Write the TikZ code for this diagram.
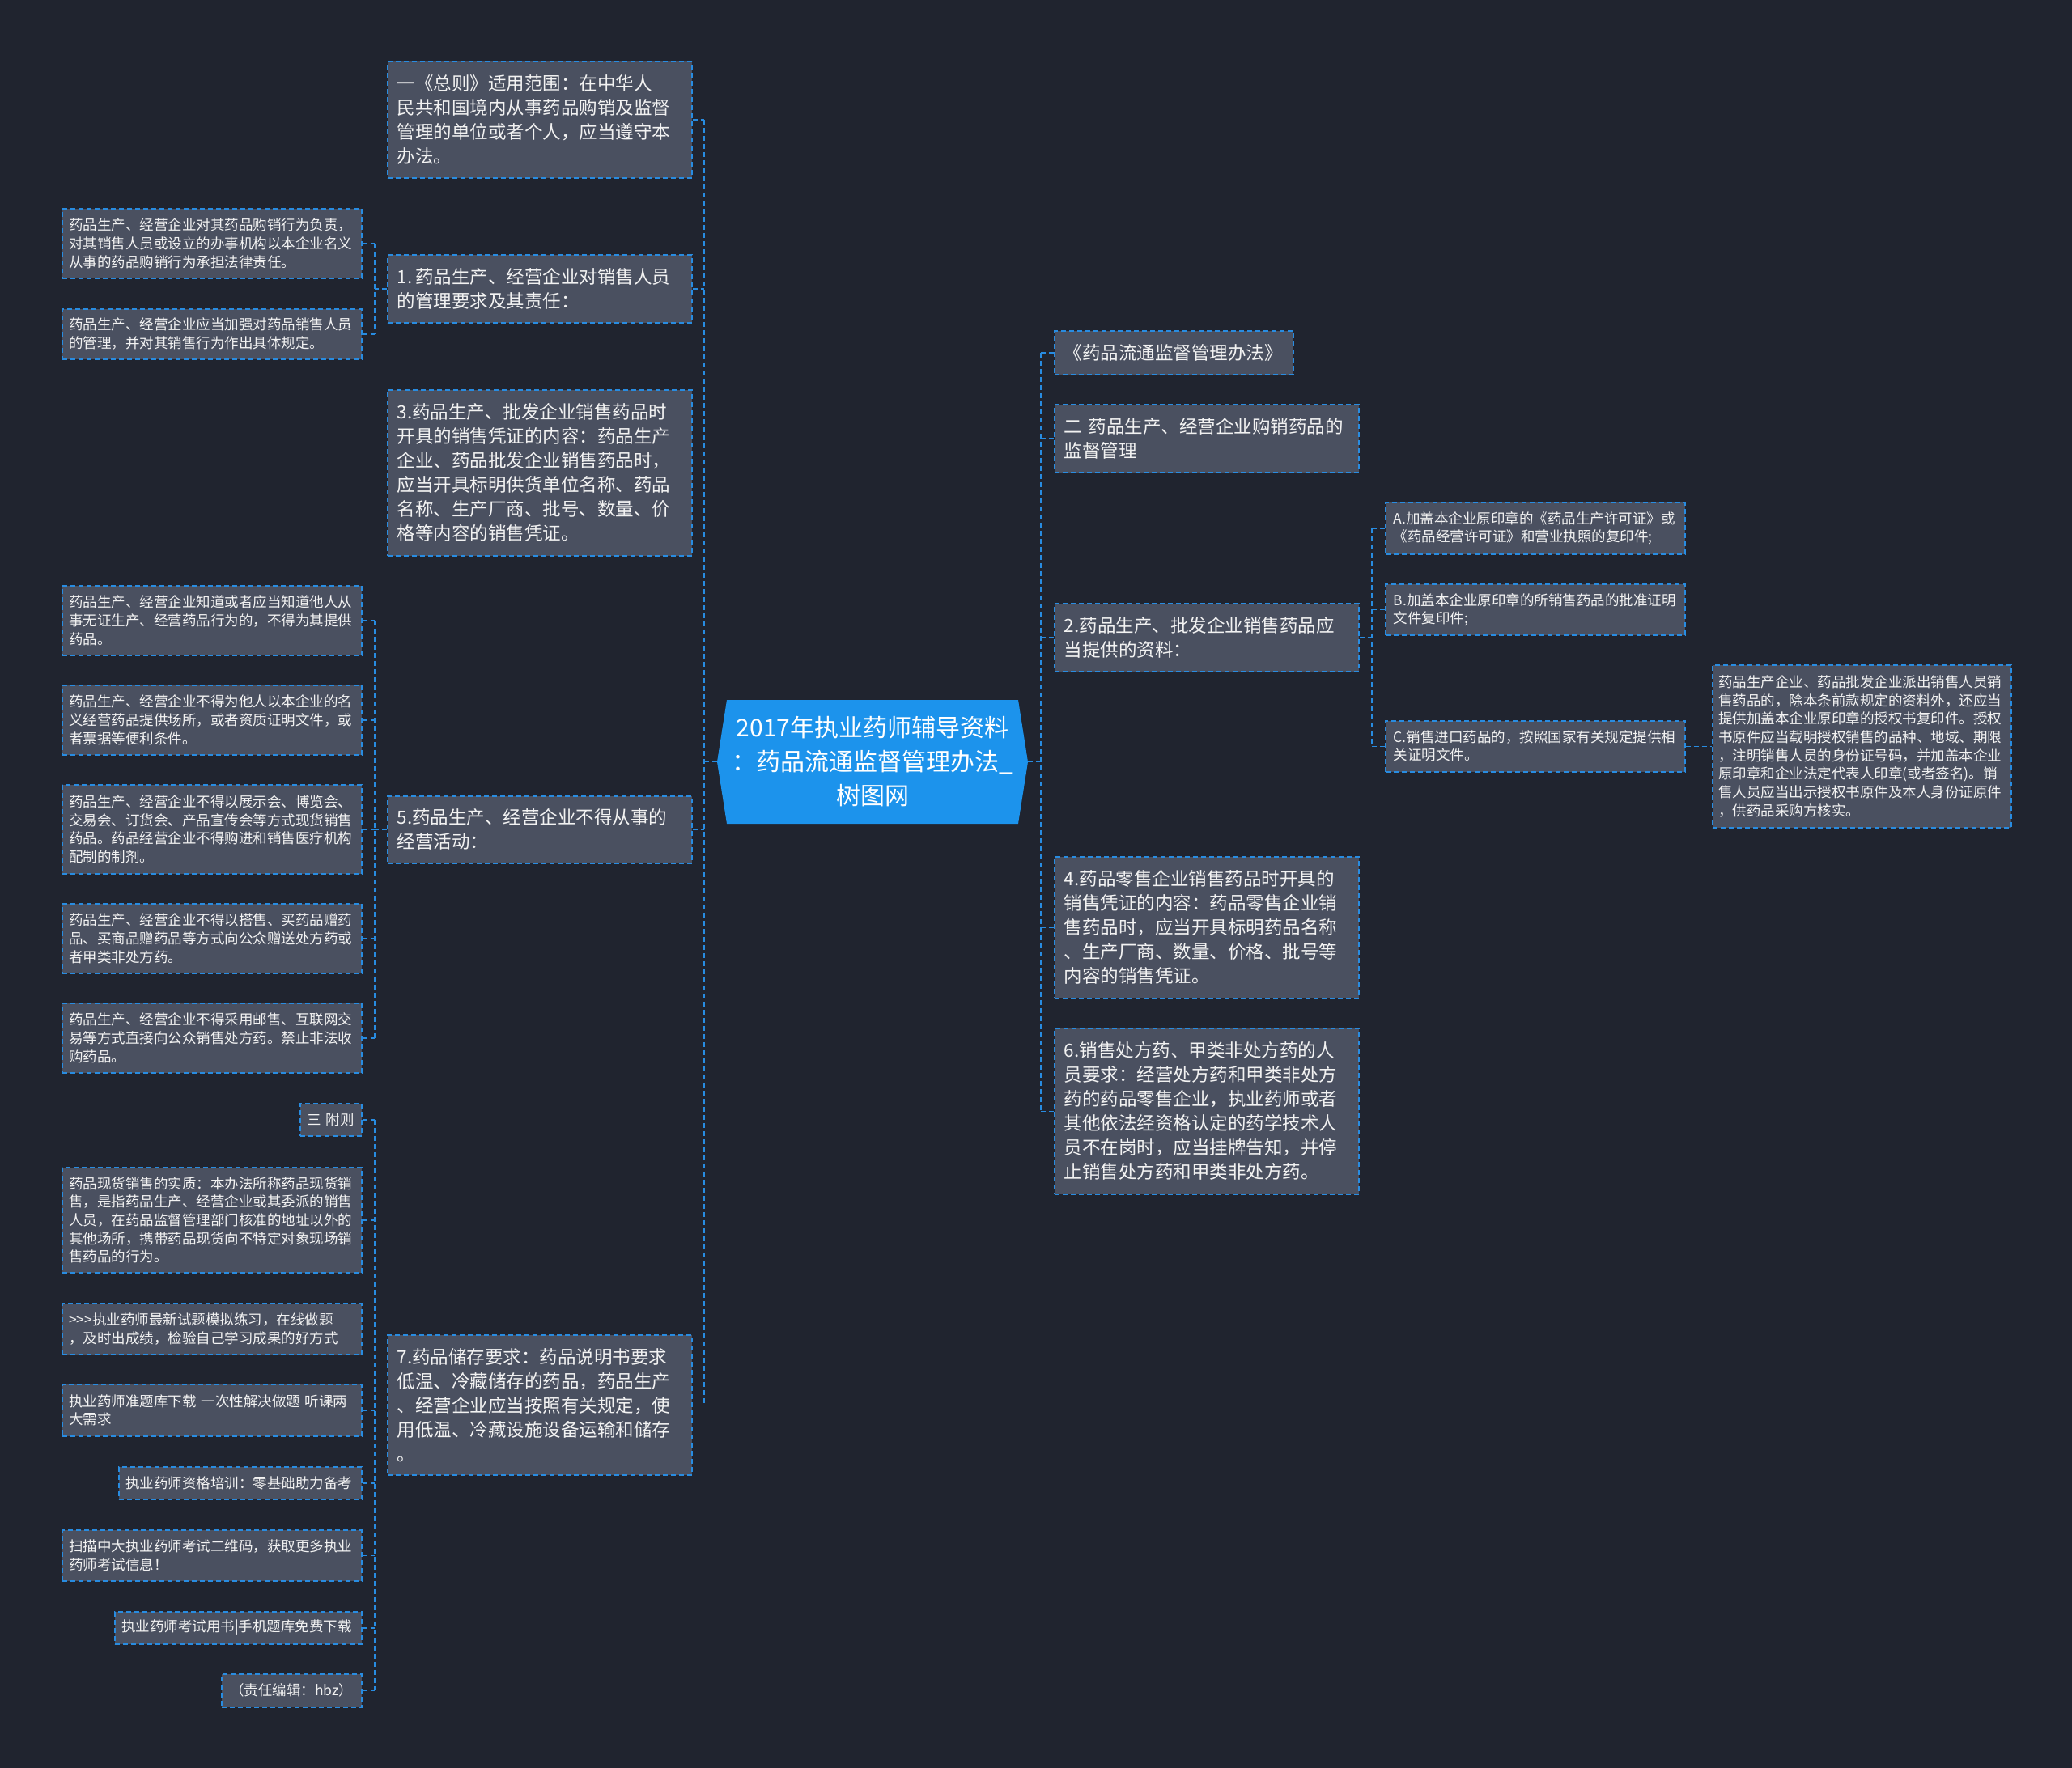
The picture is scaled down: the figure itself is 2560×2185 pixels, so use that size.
\documentclass[tikz,border=0pt]{standalone}
\usepackage{fontspec}
\setmainfont{Noto Sans CJK SC}
\definecolor{bg}{RGB}{32,36,47}
\definecolor{nfill}{RGB}{74,80,96}
\definecolor{bcol}{RGB}{40,140,225}
\definecolor{rootcol}{RGB}{28,147,236}
\definecolor{tcol}{RGB}{242,242,242}
\begin{document}
\begin{tikzpicture}[x=1pt,y=-1pt,
 box/.style={rectangle, draw=bcol, line width=1.5pt, dash pattern=on 6pt off 4pt, fill=nfill, text=tcol, anchor=north west, align=left, inner ysep=1pt},
 mainbox/.style={box, inner xsep=12pt, font=\fontsize{22.5}{30}\selectfont},
 smallbox/.style={box, inner xsep=8.5pt, font=\fontsize{17.5}{22.7}\selectfont},
 rsmall/.style={box, inner xsep=10pt, font=\fontsize{17.5}{22}\selectfont},
 conn/.style={draw=bcol, line width=1.5pt, dash pattern=on 6pt off 4pt},
]
\fill[bg] (0,0) rectangle (2560,2185);
\useasboundingbox (0,0) rectangle (2560,2185);

% root
\fill[rootcol] (886,941.5) -- (898,865) -- (1258,865) -- (1270,941.5) -- (1258,1018) -- (898,1018) -- cycle;
\node[text=white, font=\fontsize{30}{42}\selectfont, align=center, minimum width=384, minimum height=153, inner sep=0pt] (root) at (1078,941.5)
 {2017年执业药师辅导资料\\：药品流通监督管理办法\_\\树图网};

% left main nodes
\node[mainbox, minimum width=376, minimum height=144, text width=352] (n1) at (478,75)
 {一《总则》适用范围：在中华人\\民共和国境内从事药品购销及监督\\管理的单位或者个人，应当遵守本\\办法。};
\node[mainbox, minimum width=376, minimum height=84, text width=352] (n2) at (478,314)
 {1.\,药品生产、经营企业对销售人员\\的管理要求及其责任：};
\node[mainbox, minimum width=376, minimum height=205, text width=352] (n3) at (478,481)
 {3.药品生产、批发企业销售药品时\\开具的销售凭证的内容：药品生产\\企业、药品批发企业销售药品时，\\应当开具标明供货单位名称、药品\\名称、生产厂商、批号、数量、价\\格等内容的销售凭证。};
\node[mainbox, minimum width=376, minimum height=83, text width=352] (n4) at (478,983)
 {5.药品生产、经营企业不得从事的\\经营活动：};
\node[mainbox, minimum width=376, minimum height=173, text width=352] (n5) at (478,1649)
 {7.药品储存要求：药品说明书要求\\低温、冷藏储存的药品，药品生产\\、经营企业应当按照有关规定，使\\用低温、冷藏设施设备运输和储存\\。};

% left small nodes
\node[smallbox, minimum width=370, minimum height=86, text width=353] (l1a) at (76,257)
 {药品生产、经营企业对其药品购销行为负责，\\对其销售人员或设立的办事机构以本企业名义\\从事的药品购销行为承担法律责任。};
\node[smallbox, minimum width=370, minimum height=62, text width=353] (l1b) at (76,381)
 {药品生产、经营企业应当加强对药品销售人员\\的管理，并对其销售行为作出具体规定。};
\node[smallbox, minimum width=370, minimum height=86, text width=353] (l5a) at (76,723)
 {药品生产、经营企业知道或者应当知道他人从\\事无证生产、经营药品行为的，不得为其提供\\药品。};
\node[smallbox, minimum width=370, minimum height=86, text width=353] (l5b) at (76,846)
 {药品生产、经营企业不得为他人以本企业的名\\义经营药品提供场所，或者资质证明文件，或\\者票据等便利条件。};
\node[smallbox, minimum width=370, minimum height=110, text width=353] (l5c) at (76,969)
 {药品生产、经营企业不得以展示会、博览会、\\交易会、订货会、产品宣传会等方式现货销售\\药品。药品经营企业不得购进和销售医疗机构\\配制的制剂。};
\node[smallbox, minimum width=370, minimum height=86, text width=353] (l5d) at (76,1116)
 {药品生产、经营企业不得以搭售、买药品赠药\\品、买商品赠药品等方式向公众赠送处方药或\\者甲类非处方药。};
\node[smallbox, minimum width=370, minimum height=86, text width=353] (l5e) at (76,1239)
 {药品生产、经营企业不得采用邮售、互联网交\\易等方式直接向公众销售处方药。禁止非法收\\购药品。};
\node[smallbox, minimum width=76, minimum height=40, text width=59] (l7a) at (370,1363)
 {三 附则};
\node[smallbox, minimum width=370, minimum height=130, text width=353, inner ysep=0pt] (l7b) at (76,1442)
 {药品现货销售的实质：本办法所称药品现货销\\售，是指药品生产、经营企业或其委派的销售\\人员，在药品监督管理部门核准的地址以外的\\其他场所，携带药品现货向不特定对象现场销\\售药品的行为。};
\node[smallbox, minimum width=370, minimum height=63, text width=353] (l7c) at (76,1610)
 {{>}{>}{>}执业药师最新试题模拟练习，在线做题\\，及时出成绩，检验自己学习成果的好方式};
\node[smallbox, minimum width=370, minimum height=64, text width=353] (l7d) at (76,1710)
 {执业药师准题库下载 一次性解决做题 听课两\\大需求};
\node[smallbox, minimum width=300, minimum height=40, text width=283] (l7e) at (146,1812)
 {执业药师资格培训：零基础助力备考};
\node[smallbox, minimum width=370, minimum height=63, text width=353] (l7f) at (76,1890)
 {扫描中大执业药师考试二维码，获取更多执业\\药师考试信息！};
\node[smallbox, minimum width=305, minimum height=40, text width=288] (l7g) at (141,1991)
 {执业药师考试用书|手机题库免费下载};
\node[smallbox, minimum width=173, minimum height=41, text width=156, align=center] (l7h) at (273,2068)
 {（责任编辑：hbz）};

% right main nodes
\node[mainbox, minimum width=295, minimum height=54, text width=271] (r1) at (1302,408)
 {《药品流通监督管理办法》};
\node[mainbox, minimum width=376, minimum height=84, text width=352] (r2) at (1302,499)
 {二 药品生产、经营企业购销药品的\\监督管理};
\node[mainbox, minimum width=376, minimum height=84, text width=352] (r3) at (1302,745)
 {2.药品生产、批发企业销售药品应\\当提供的资料：};
\node[mainbox, minimum width=376, minimum height=175, text width=352] (r4) at (1302,1058)
 {4.药品零售企业销售药品时开具的\\销售凭证的内容：药品零售企业销\\售药品时，应当开具标明药品名称\\、生产厂商、数量、价格、批号等\\内容的销售凭证。};
\node[mainbox, minimum width=376, minimum height=205, text width=352] (r5) at (1302,1270)
 {6.销售处方药、甲类非处方药的人\\员要求：经营处方药和甲类非处方\\药的药品零售企业，执业药师或者\\其他依法经资格认定的药学技术人\\员不在岗时，应当挂牌告知，并停\\止销售处方药和甲类非处方药。};

% right small nodes
\node[rsmall, minimum width=370, minimum height=64, text width=350] (ra) at (1711,620)
 {A.加盖本企业原印章的《药品生产许可证》或\\《药品经营许可证》和营业执照的复印件;};
\node[rsmall, minimum width=370, minimum height=63, text width=350] (rb) at (1711,721)
 {B.加盖本企业原印章的所销售药品的批准证明\\文件复印件;};
\node[rsmall, minimum width=370, minimum height=63, text width=350] (rc) at (1711,890)
 {C.销售进口药品的，按照国家有关规定提供相\\关证明文件。};
\node[smallbox, inner xsep=7.5pt, minimum width=369, minimum height=201, text width=354] (rd) at (2115,821)
 {药品生产企业、药品批发企业派出销售人员销\\售药品的，除本条前款规定的资料外，还应当\\提供加盖本企业原印章的授权书复印件。授权\\书原件应当载明授权销售的品种、地域、期限\\，注明销售人员的身份证号码，并加盖本企业\\原印章和企业法定代表人印章(或者签名)。销\\售人员应当出示授权书原件及本人身份证原件\\，供药品采购方核实。};

% connectors: trunks
\coordinate (lt) at (870,941.5);
\coordinate (rt) at (1286,941.5);
\draw[conn] (root.west) -- (lt);
\draw[conn] (root.east) -- (rt);
\draw[conn] (lt |- n1.east) -- (lt |- n5.east);
\foreach \n in {n1,n2,n3,n4,n5} \draw[conn] (\n.east) -- (lt |- \n.east);
\draw[conn] (rt |- r1.west) -- (rt |- r5.west);
\foreach \n in {r1,r2,r3,r4,r5} \draw[conn] (\n.west) -- (rt |- \n.west);

% sub trunks
\coordinate (s2) at (463,356);
\draw[conn] (n2.west) -- (s2 |- n2.west);
\draw[conn] (s2 |- l1a.east) -- (s2 |- l1b.east);
\foreach \n in {l1a,l1b} \draw[conn] (\n.east) -- (s2 |- \n.east);

\draw[conn] (n4.west) -- (s2 |- n4.west);
\draw[conn] (s2 |- l5a.east) -- (s2 |- l5e.east);
\foreach \n in {l5a,l5b,l5c,l5d,l5e} \draw[conn] (\n.east) -- (s2 |- \n.east);

\draw[conn] (n5.west) -- (s2 |- n5.west);
\draw[conn] (s2 |- l7a.east) -- (s2 |- l7h.east);
\foreach \n in {l7a,l7b,l7c,l7d,l7e,l7f,l7g,l7h} \draw[conn] (\n.east) -- (s2 |- \n.east);

\coordinate (s3) at (1695,787);
\draw[conn] (r3.east) -- (s3 |- r3.east);
\draw[conn] (s3 |- ra.west) -- (s3 |- rc.west);
\foreach \n in {ra,rb,rc} \draw[conn] (\n.west) -- (s3 |- \n.west);
\draw[conn] (rc.east) -- (rd.west);
\end{tikzpicture}
\end{document}
